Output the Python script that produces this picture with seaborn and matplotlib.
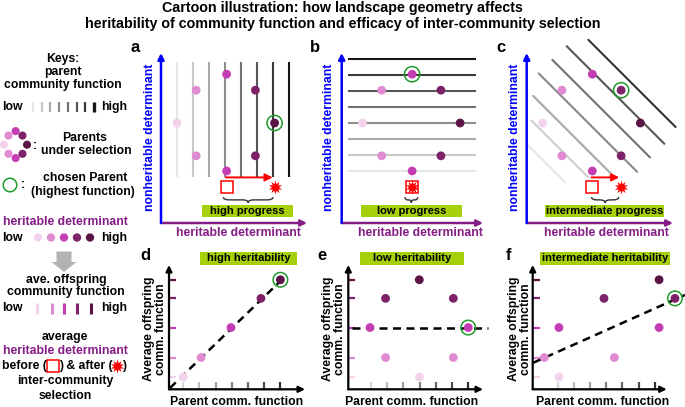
import numpy as np
import pandas as pd
import matplotlib.pyplot as plt
import seaborn as sns
from matplotlib.patches import Rectangle, PathPatch, FancyArrow
from matplotlib.path import Path

sns.set_theme(style="white")
plt.rcParams['font.family'] = ['Liberation Sans', 'DejaVu Sans']

level_colors = ['#f3d2ec', '#e08ad2', '#c53db3', '#7d2268', '#5a1446']
lvl_pal = {i: c for i, c in enumerate(level_colors)}

# parents under selection (heritable h, nonheritable n), landscape units
par_h = [4.1, 2.2, 5.9, 1.0, 7.1, 2.2, 5.9, 4.1]
par_n = [9.3, 8.3, 8.3, 6.25, 6.25, 4.2, 4.2, 3.25]
par_lvl = [2, 1, 3, 0, 4, 1, 3, 2]

# contour lines of parent community function
a_lines_h = [1, 2, 3, 4, 5, 6, 7, 8]
a_line_n = (2.9, 10.05)
b_lines_n = [3.25, 4.25, 5.25, 6.25, 7.25, 8.25, 9.25, 10.25]
b_line_h = (0.1, 8.1)
c_line_sum = [15.3, 13.55, 11.8, 10.1, 8.35, 6.7, 4.95]
c_line_h0 = [3.85, 2.5, 1.6, 0.75, 0.4, 0.3, 0.1]
c_line_h1 = [9.3, 8.6, 7.7, 6.9, 5.3, 3.85, 2.4]
grays8 = ['#e6e6e6', '#c8c8c8', '#aaaaaa', '#8e8e8e', '#727272', '#575757', '#3a3a3a', '#161616']
grays_c = ['#333333', '#555555', '#707070', '#8a8a8a', '#a6a6a6', '#cdcdcd', '#e6e6e6']

chosen_top = [4, 0, 2]
before_h = 4.1
brace_lo = [3.9, 3.65, 4.05]
brace_hi = [7.0, 4.45, 5.75]
progress_labels = ['high progress', 'low progress', 'intermediate progress']

# offspring vs parent community function
off_levels = [1.0, 2.2, 4.05, 5.85, 7.0]
x_ticks = [1, 2, 3, 4, 5, 6, 7]
grays7 = ['#d6d6d6', '#bcbcbc', '#a0a0a0', '#858585', '#6a6a6a', '#4e4e4e', '#303030']
d_x = [1.0, 2.1, 3.95, 5.8, 7.0]
d_lvl = [0, 1, 2, 3, 4]
e_x = [3.98, 1.9, 6.08, 0.94, 7.0, 1.9, 6.08, 3.98]
e_lvl = [4, 3, 3, 2, 2, 1, 1, 0]
f_x = [7.26, 3.86, 8.24, 1.08, 7.26, 0.18, 4.5, 1.08]
f_lvl = [4, 3, 3, 2, 2, 1, 1, 0]
chosen_bot = [4, 4, 2]
fit_x = [(0.18, 7.18), (-0.19, 8.24), (-0.5, 8.86)]
fit_y = [(0.32, 7.09), (4.05, 4.05), (1.88, 6.06)]
heritability_labels = ['high heritability', 'low heritability', 'intermediate heritability']

purple = '#841c86'
box_green = '#a6cf0c'
ring_green = '#1f9a2a'

W, H = 685, 407
fig = plt.figure(figsize=(W / 100, H / 100), dpi=100)


def px_axes(x0, y0, x1, y1):
    ax = fig.add_axes([x0 / W, 1 - y1 / H, (x1 - x0) / W, (y1 - y0) / H])
    ax.axis('off')
    return ax


def axis_arrows(ax, xcol, ycol, lw=1.8):
    for xy, col in [((1, 0), xcol), ((0, 1), ycol)]:
        ax.annotate('', xy=xy, xytext=(0, 0), xycoords='axes fraction',
                    arrowprops=dict(arrowstyle='-|>', color=col, lw=lw,
                                    mutation_scale=9, shrinkA=0, shrinkB=0),
                    annotation_clip=False)


def brace(ax, x0, x1, ytop, ybot):
    xm, ym = (x0 + x1) / 2, (ytop + ybot) / 2
    r = min(0.35, (x1 - x0) / 5)
    verts, codes = [], []
    for xe, s in [(x0, 1), (x1, -1)]:
        verts += [(xe, ytop), (xe, ym), (xe + s * r, ym), (xm - s * r, ym), (xm, ym), (xm, ybot)]
        codes += [Path.MOVETO, Path.CURVE3, Path.CURVE3, Path.LINETO, Path.CURVE3, Path.CURVE3]
    ax.add_patch(PathPatch(Path(verts, codes), fill=False, lw=1.0, color='#333333', clip_on=False))


parents = pd.DataFrame({'h': par_h, 'n': par_n, 'lvl': par_lvl})

# ---- top landscapes a, b, c ----
top_boxes = [(161, 53, 307, 223), (341.7, 53, 483, 223), (526.7, 53, 673, 223)]
top_xlim = [(0, 9.125), (-0.3, 8.53), (0, 9.14)]
for k in range(3):
    ax = px_axes(*top_boxes[k])
    ax.set_xlim(*top_xlim[k])
    ax.set_ylim(0, 10.625)
    axis_arrows(ax, purple, 'blue')
    if k == 0:
        ax.vlines(a_lines_h, *a_line_n, colors=grays8, lw=1.5, zorder=1)
    elif k == 1:
        ax.hlines(b_lines_n, *b_line_h, colors=grays8, lw=1.5, zorder=1)
    else:
        for s, h0, h1, col in zip(c_line_sum, c_line_h0, c_line_h1, grays_c):
            ax.plot([h0, h1], [s - h0, s - h1], color=col, lw=1.5, zorder=1, clip_on=False)
    sns.scatterplot(data=parents, x='h', y='n', hue='lvl', palette=lvl_pal, s=40,
                    edgecolor='none', legend=False, ax=ax, zorder=3, clip_on=False)
    ch = parents.iloc[chosen_top[k]]
    ax.scatter([ch.h], [ch.n], s=120, facecolors='none', edgecolors=ring_green,
               linewidths=1.1, zorder=4, clip_on=False)
    after_h = ch.h
    if after_h > before_h:
        ax.annotate('', xy=(after_h - 0.12, 2.85), xytext=(before_h - 0.05, 2.85),
                    arrowprops=dict(arrowstyle='-|>', color='red', lw=1.4,
                                    mutation_scale=11, shrinkA=0, shrinkB=0),
                    annotation_clip=False)
    ax.plot([before_h], [2.25], marker='s', ms=8, mfc='white', mec='red', mew=1.1,
            zorder=4, clip_on=False)
    ax.plot([after_h], [2.25], marker=(10, 1, 0), ms=10, color='red', mew=0,
            zorder=5, clip_on=False)
    brace(ax, brace_lo[k], brace_hi[k], 1.62, 1.27)

# ---- bottom offspring panels d, e, f ----
bot_boxes = [(169, 265, 305, 389.3), (348.3, 265, 483, 389.3), (532.7, 265, 666.7, 389.3)]
bot_xlim = [(0.12, 8.52), (-0.4, 7.91), (-0.54, 7.73)]
bot_x = [d_x, e_x, f_x]
bot_lvl = [d_lvl, e_lvl, f_lvl]
for k in range(3):
    ax = px_axes(*bot_boxes[k])
    x0, x1 = bot_xlim[k]
    ax.set_xlim(x0, x1)
    ax.set_ylim(0.24, 7.91)
    axis_arrows(ax, 'black', 'black', lw=1.6)
    tl = 7 / 16.2
    ax.hlines(off_levels, x0, x0 + tl, colors=level_colors, lw=1.6, clip_on=False)
    ax.vlines(x_ticks, 0.24, 0.24 + tl, colors=grays7, lw=1.6, clip_on=False)
    ax.plot(fit_x[k], fit_y[k], color='black', lw=1.8, dashes=(3.2, 2.2), zorder=2, clip_on=False)
    dfk = pd.DataFrame({'x': bot_x[k], 'lvl': bot_lvl[k]})
    dfk['y'] = [off_levels[l] for l in dfk['lvl']]
    sns.scatterplot(data=dfk, x='x', y='y', hue='lvl', palette=lvl_pal, s=40,
                    edgecolor='none', legend=False, ax=ax, zorder=3, clip_on=False)
    ch = dfk.iloc[chosen_bot[k]]
    ax.scatter([ch.x], [ch.y], s=110, facecolors='none', edgecolors=ring_green,
               linewidths=1.1, zorder=4, clip_on=False)

# ---- key: ring of parents ----
ring = px_axes(0.2, 128, 30.4, 172.5)
ring.set_xlim(0, 8)
ring.set_ylim(0, 10)
sns.scatterplot(data=parents, x='h', y='n', hue='lvl', palette=lvl_pal, s=34,
                edgecolor='none', legend=False, ax=ring, clip_on=False)

# ---- overlay for text, boxes and key glyphs ----
ov = fig.add_axes([0, 0, 1, 1], zorder=10)
ov.set_xlim(0, W)
ov.set_ylim(H, 0)
ov.axis('off')
ov.patch.set_alpha(0)


def txt(x, y, s, size=8.8, color='black', **kw):
    kw.setdefault('ha', 'center')
    ov.text(x, y, s, va='center', fontsize=size, fontweight='bold', color=color, **kw)


txt(342.5, 8, 'Cartoon illustration: how landscape geometry affects', size=10.3)
txt(342.5, 24, 'heritability of community function and efficacy of inter-community selection', size=10.3)

for lab, (x, y) in zip('abcdef', [(135, 47), (315, 47), (501, 47), (145, 255), (322, 255), (509, 255)]):
    txt(x, y, lab, size=12)

for xc, yc, xl in [(150, 137, 238), (329, 137, 420), (515, 137, 606)]:
    txt(xc, yc, 'nonheritable determinant', color='blue', rotation=90)
    txt(xl, 233, 'heritable determinant', color=purple)

for (bx0, bx1), lab in zip([(202, 293), (361, 462.3), (545, 664.3)], progress_labels):
    ov.add_patch(Rectangle((bx0, 204.5), bx1 - bx0, 12.5, color=box_green, lw=0))
    txt((bx0 + bx1) / 2, 210.5, lab, size=8)

for (bx0, bx1), lab in zip([(200, 296.7), (360, 464.3), (540, 670)], heritability_labels):
    ov.add_patch(Rectangle((bx0, 251.7), bx1 - bx0, 13.3, color=box_green, lw=0))
    txt((bx0 + bx1) / 2, 258.2, lab, size=8)

for xc, xl in [(155.5, 237), (334, 412), (520, 603)]:
    txt(xc, 329, 'Average offspring\ncomm. function', rotation=90, linespacing=1.0)
    txt(xl, 402, 'Parent comm. function')

# key texts
txt(63, 59, 'Keys:')
txt(63, 72, 'parent')
txt(63, 85, 'community function')
txt(12.5, 107, 'low')
txt(114, 107, 'high')
ov.vlines(np.linspace(33, 94, 8), 102, 112, colors=grays8, lw=[1.6] * 7 + [2.4])
txt(35, 146, ':')
txt(85, 138, 'Parents')
txt(86, 151, 'under selection')
ov.scatter([10], [185], s=95, facecolors='none', edgecolors=ring_green, linewidths=1.1)
txt(23, 185, ':')
txt(85, 178, 'chosen Parent')
txt(83, 192, '(highest function)')
txt(65, 222, 'heritable determinant', color=purple)
txt(12.5, 238, 'low')
txt(114, 238, 'high')
ov.scatter([38, 51, 64, 77, 90], [237.5] * 5, s=36, c=level_colors, edgecolors='none')
ov.add_patch(FancyArrow(64, 251.5, 0, 20.5, width=15, head_width=25, head_length=10,
                        length_includes_head=True, color='#b3b3b3', lw=0))
txt(66, 280, 'ave. offspring')
txt(66, 292, 'community function')
txt(12.5, 308, 'low')
txt(114, 308, 'high')
ov.vlines([37.3, 51.7, 64, 77.3, 90.7], 303, 314, colors=level_colors, lw=2.2)
txt(65, 337, 'average')
txt(65, 351, 'heritable determinant', color=purple)
txt(46.5, 366, 'before (', ha='right')
ov.plot([53.5], [366], marker='s', ms=8, mfc='white', mec='red', mew=1.1)
txt(86, 366, ') & after (')
ov.plot([117.3], [366], marker=(10, 1, 0), ms=10, color='red', mew=0)
txt(122.5, 366, ')', ha='left')
txt(65, 381, 'inter-community')
txt(65, 396, 'selection')

fig.savefig('out.png', dpi=100)
